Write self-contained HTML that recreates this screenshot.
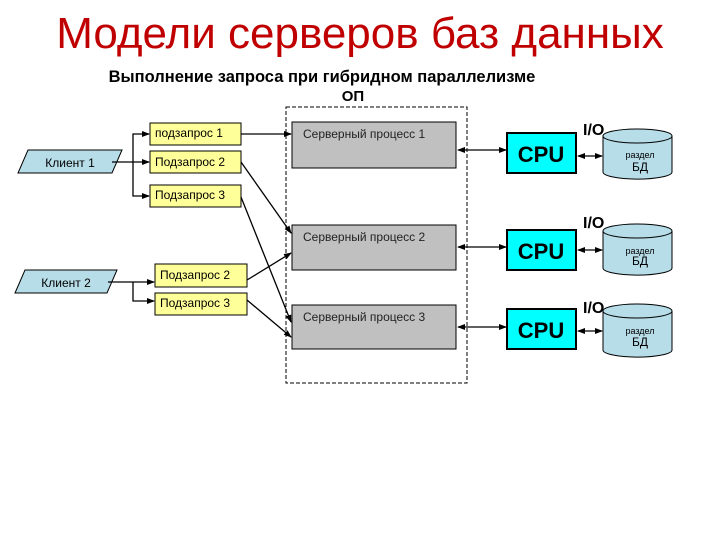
<!DOCTYPE html>
<html><head><meta charset="utf-8"><style>
body{margin:0;background:#fff;width:720px;height:540px;overflow:hidden;font-family:"Liberation Sans",sans-serif}
</style></head><body>
<svg width="720" height="540" xmlns="http://www.w3.org/2000/svg" font-family="Liberation Sans, sans-serif">
<defs><marker id="a" markerWidth="8" markerHeight="8" refX="7" refY="4" orient="auto-start-reverse" markerUnits="userSpaceOnUse"><path d="M0,1 L8,4 L0,7z" fill="#000"/></marker></defs>
<text x="360" y="48" font-size="44" text-anchor="middle" fill="#c00000">Модели серверов баз данных</text>
<text x="322" y="82" font-size="16.5" font-weight="bold" text-anchor="middle" fill="#000">Выполнение запроса при гибридном параллелизме</text>
<text x="353" y="101" font-size="15" font-weight="bold" text-anchor="middle">ОП</text>
<rect x="286" y="107" width="181" height="276" fill="none" stroke="#000" stroke-dasharray="4,2"/>
<polygon points="28,150 122,150 112,173 18,173" fill="#b7dde8" stroke="#000"/>
<text x="70" y="167" font-size="12" text-anchor="middle">Клиент 1</text>
<polygon points="25,270 117,270 107,293 15,293" fill="#b7dde8" stroke="#000"/>
<text x="66" y="287" font-size="12" text-anchor="middle">Клиент 2</text>
<g fill="#ffff99" stroke="#000"><rect x="150" y="123" width="91" height="22"/><rect x="150" y="151" width="91" height="22"/><rect x="150" y="185" width="91" height="22"/><rect x="155" y="264" width="92" height="23"/><rect x="155" y="293" width="92" height="22"/></g>
<g font-size="12"><text x="155" y="137">подзапрос 1</text><text x="155" y="166">Подзапрос 2</text><text x="155" y="199">Подзапрос 3</text><text x="160" y="279">Подзапрос 2</text><text x="160" y="307">Подзапрос 3</text></g>
<g stroke="#000" fill="none" stroke-width="1.3">
<path d="M112,162 H149" marker-end="url(#a)"/>
<path d="M133,162 V134 H149" marker-end="url(#a)"/>
<path d="M133,162 V196 H149" marker-end="url(#a)"/>
<path d="M108,282 H154" marker-end="url(#a)"/>
<path d="M133,282 V301 H154" marker-end="url(#a)"/>
<path d="M241,134 H291" marker-end="url(#a)"/>
<path d="M241,162 L291,233" marker-end="url(#a)"/>
<path d="M241,197 L291,322" marker-end="url(#a)"/>
<path d="M247,280 L291,253" marker-end="url(#a)"/>
<path d="M247,300 L291,337" marker-end="url(#a)"/>
</g>
<g fill="#c0c0c0" stroke="#000"><rect x="292" y="122" width="164" height="46"/><rect x="292" y="225" width="164" height="45"/><rect x="292" y="305" width="164" height="44"/></g>
<g font-size="12" fill="#222"><text x="303" y="138">Серверный процесс 1</text><text x="303" y="241">Серверный процесс 2</text><text x="303" y="321">Серверный процесс 3</text></g>
<g fill="#00ffff" stroke="#000" stroke-width="2"><rect x="507" y="133" width="69" height="40"/><rect x="507" y="230" width="69" height="40"/><rect x="507" y="309" width="69" height="40"/></g>
<g font-size="22" font-weight="bold" text-anchor="middle"><text x="541" y="162">CPU</text><text x="541" y="259">CPU</text><text x="541" y="338">CPU</text></g>
<g stroke="#000" fill="none" stroke-width="1.3">
<path d="M458,150 H506" marker-start="url(#a)" marker-end="url(#a)"/>
<path d="M458,247 H506" marker-start="url(#a)" marker-end="url(#a)"/>
<path d="M458,327 H506" marker-start="url(#a)" marker-end="url(#a)"/>
<path d="M578,156 H602" marker-start="url(#a)" marker-end="url(#a)"/>
<path d="M578,250 H602" marker-start="url(#a)" marker-end="url(#a)"/>
<path d="M578,331 H602" marker-start="url(#a)" marker-end="url(#a)"/>
</g>
<g fill="#b7dde8" stroke="#000">
<path d="M603,136 V172 A34,7 0 0 0 672,172 V136"/><ellipse cx="637.5" cy="136" rx="34.5" ry="7"/>
<path d="M603,231 V268 A34,7 0 0 0 672,268 V231"/><ellipse cx="637.5" cy="231" rx="34.5" ry="7"/>
<path d="M603,311 V350 A34,7 0 0 0 672,350 V311"/><ellipse cx="637.5" cy="311" rx="34.5" ry="7"/>
</g>
<g text-anchor="middle"><text x="640" y="158" font-size="9">раздел</text><text x="640" y="171" font-size="12">БД</text>
<text x="640" y="254" font-size="9">раздел</text><text x="640" y="265" font-size="12">БД</text>
<text x="640" y="334" font-size="9">раздел</text><text x="640" y="346" font-size="12">БД</text></g>
<g font-size="16" font-weight="bold"><text x="583" y="135">I/O</text><text x="583" y="228">I/O</text><text x="583" y="313">I/O</text></g>
</svg>
</body></html>
